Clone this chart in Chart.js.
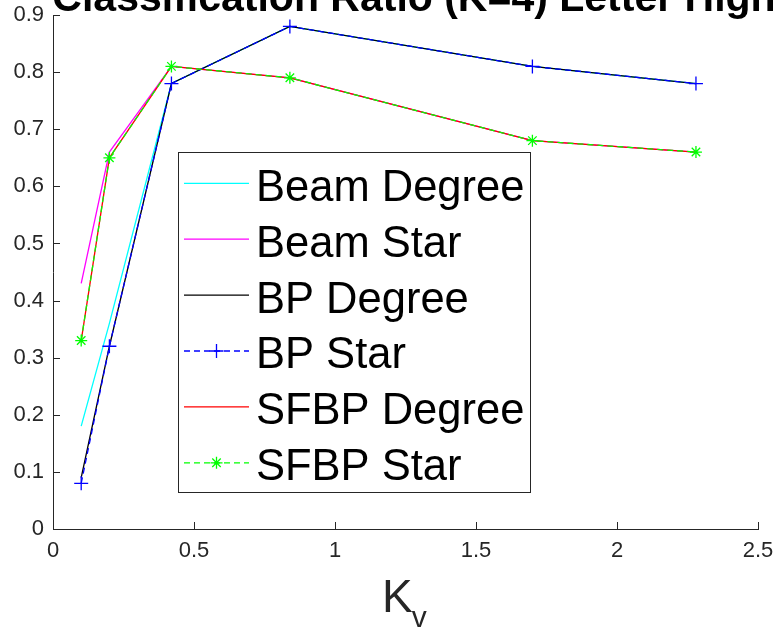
<!DOCTYPE html>
<html>
<head>
<meta charset="utf-8">
<script src="https://cdn.jsdelivr.net/npm/chart.js@4"></script>
<style>
html,body{margin:0;padding:0;background:#fff;}
#wrap{width:774px;height:631px;position:relative;overflow:hidden;}
</style>
</head>
<body>
<div id="wrap"><canvas id="c" width="774" height="631"></canvas></div>
<script>
const chartTitle = 'Classification Ratio (K=4) Letter High';
const xTitleMain = 'K';
const xTitleSub = 'v';
const kv = [0.1, 0.2, 0.42, 0.84, 1.7, 2.28];
const seriesNames = ['Beam Degree', 'Beam Star', 'BP Degree', 'BP Star', 'SFBP Degree', 'SFBP Star'];
const beamDegree = [0.18, 0.36, 0.78, 0.88, 0.81, 0.78];
const beamStar   = [0.43, 0.66, 0.81, 0.79, 0.68, 0.66];
const bpDegree   = [0.09, 0.32, 0.78, 0.88, 0.81, 0.78];
const bpStar     = [0.08, 0.32, 0.78, 0.88, 0.81, 0.78];
const sfbpDegree = [0.33, 0.65, 0.81, 0.79, 0.68, 0.66];
const sfbpStar   = [0.33, 0.65, 0.81, 0.79, 0.68, 0.66];
const yTicks = [0, 0.1, 0.2, 0.3, 0.4, 0.5, 0.6, 0.7, 0.8, 0.9];
const xTicks = [0, 0.5, 1, 1.5, 2, 2.5];

const allValues = [beamDegree, beamStar, bpDegree, bpStar, sfbpDegree, sfbpStar];
const styles = [
  {color:'#00FFFF', dash:[], point:false},
  {color:'#FF00FF', dash:[], point:false},
  {color:'#000000', dash:[], point:false},
  {color:'#0000FF', dash:[6,4], point:'cross', r:7},
  {color:'#FF0000', dash:[], point:false},
  {color:'#00FF00', dash:[6,4], point:'star', r:6}
];
const AX = '#262626';
const FONT = '"Liberation Sans", Arial, sans-serif';

const datasets = allValues.map((vals, i) => ({
  label: seriesNames[i],
  data: kv.map((x, j) => ({x: x, y: vals[j]})),
  borderColor: styles[i].color,
  backgroundColor: styles[i].color,
  borderWidth: 1.3,
  borderDash: styles[i].dash,
  pointStyle: styles[i].point || 'circle',
  pointRadius: styles[i].point ? styles[i].r : 0,
  pointHoverRadius: styles[i].point ? styles[i].r : 0,
  pointBorderColor: styles[i].color,
  pointBorderWidth: 1.3,
  showLine: true,
  fill: false,
  tension: 0,
  order: 6 - i
}));

const decor = {
  id: 'decor',
  afterDraw(chart) {
    const ctx = chart.ctx;
    const xs = chart.scales.x, ys = chart.scales.y;
    const ca = chart.chartArea;
    ctx.save();
    // inward ticks
    ctx.strokeStyle = AX; ctx.lineWidth = 1;
    ctx.beginPath();
    xTicks.forEach(v => { const px = Math.round(xs.getPixelForValue(v)) + 0.5; ctx.moveTo(px, ca.bottom); ctx.lineTo(px, ca.bottom - 7); });
    yTicks.forEach(v => { const py = Math.round(ys.getPixelForValue(v)) + 0.5; ctx.moveTo(ca.left, py); ctx.lineTo(ca.left + 7, py); });
    ctx.stroke();
    // title (cut at top)
    ctx.fillStyle = '#000';
    ctx.font = 'bold 41px ' + FONT;
    ctx.textAlign = 'center'; ctx.textBaseline = 'alphabetic';
    ctx.fillText(chartTitle, 414, 11);
    // x axis title with subscript
    ctx.textAlign = 'left';
    ctx.font = '46px ' + FONT;
    ctx.fillStyle = AX;
    ctx.fillText(xTitleMain, 382, 612);
    const kw = ctx.measureText(xTitleMain).width;
    ctx.font = '30px ' + FONT;
    ctx.fillText(xTitleSub, 382 + kw - 1, 627);
    // legend
    const L = 178.5, T = 152.5, R = 530.5, B = 492.5;
    ctx.fillStyle = '#fff';
    ctx.fillRect(L, T, R - L, B - T);
    ctx.strokeStyle = AX; ctx.lineWidth = 1;
    ctx.strokeRect(L, T, R - L, B - T);
    chart.data.datasets.forEach((ds, i) => {
      const y = 183.3 + i * 55.9;
      ctx.strokeStyle = ds.borderColor; ctx.lineWidth = 1.3;
      ctx.setLineDash(ds.borderDash || []);
      ctx.beginPath(); ctx.moveTo(184, y); ctx.lineTo(249, y); ctx.stroke();
      ctx.setLineDash([]);
      const st = styles[i];
      if (st.point) {
        const cx = 216.5, r = st.r;
        ctx.beginPath();
        ctx.moveTo(cx - r, y); ctx.lineTo(cx + r, y);
        ctx.moveTo(cx, y - r); ctx.lineTo(cx, y + r);
        if (st.point === 'star') {
          const d = r * Math.SQRT1_2;
          ctx.moveTo(cx - d, y - d); ctx.lineTo(cx + d, y + d);
          ctx.moveTo(cx - d, y + d); ctx.lineTo(cx + d, y - d);
        }
        ctx.stroke();
      }
      ctx.fillStyle = '#000';
      ctx.font = '43.5px ' + FONT;
      ctx.textAlign = 'left'; ctx.textBaseline = 'alphabetic';
      ctx.fillText(ds.label, 256, y + 17.4);
    });
    ctx.restore();
  }
};

new Chart(document.getElementById('c'), {
  type: 'scatter',
  data: { datasets: datasets },
  options: {
    responsive: false,
    animation: false,
    devicePixelRatio: 1,
    layout: { padding: { top: 15, right: 16, left: 0, bottom: 0 } },
    plugins: { legend: { display: false }, title: { display: false }, tooltip: { enabled: false } },
    scales: {
      x: {
        type: 'linear', min: 0, max: 2.5,
        afterFit(s) { s.height = 102; s.paddingLeft = 0; s.paddingRight = 0; },
        afterBuildTicks(s) { s.ticks = xTicks.map(v => ({value: v})); },
        ticks: { color: AX, font: { family: FONT, size: 22 }, padding: 9, maxRotation: 0,
                 callback: v => String(v) },
        grid: { display: true, drawOnChartArea: false, drawTicks: false, tickLength: 0, color: 'rgba(0,0,0,0)' },
        border: { display: true, color: AX, width: 1 }
      },
      y: {
        type: 'linear', min: 0, max: 0.9,
        afterFit(s) { s.width = 53; s.paddingTop = 0; s.paddingBottom = 0; },
        afterBuildTicks(s) { s.ticks = yTicks.map(v => ({value: v})); },
        ticks: { color: AX, font: { family: FONT, size: 22 }, padding: 9,
                 callback: v => String(Math.round(v * 10) / 10) },
        grid: { display: true, drawOnChartArea: false, drawTicks: false, tickLength: 0, color: 'rgba(0,0,0,0)' },
        border: { display: true, color: AX, width: 1 }
      }
    }
  },
  plugins: [decor]
});
</script>
</body>
</html>
